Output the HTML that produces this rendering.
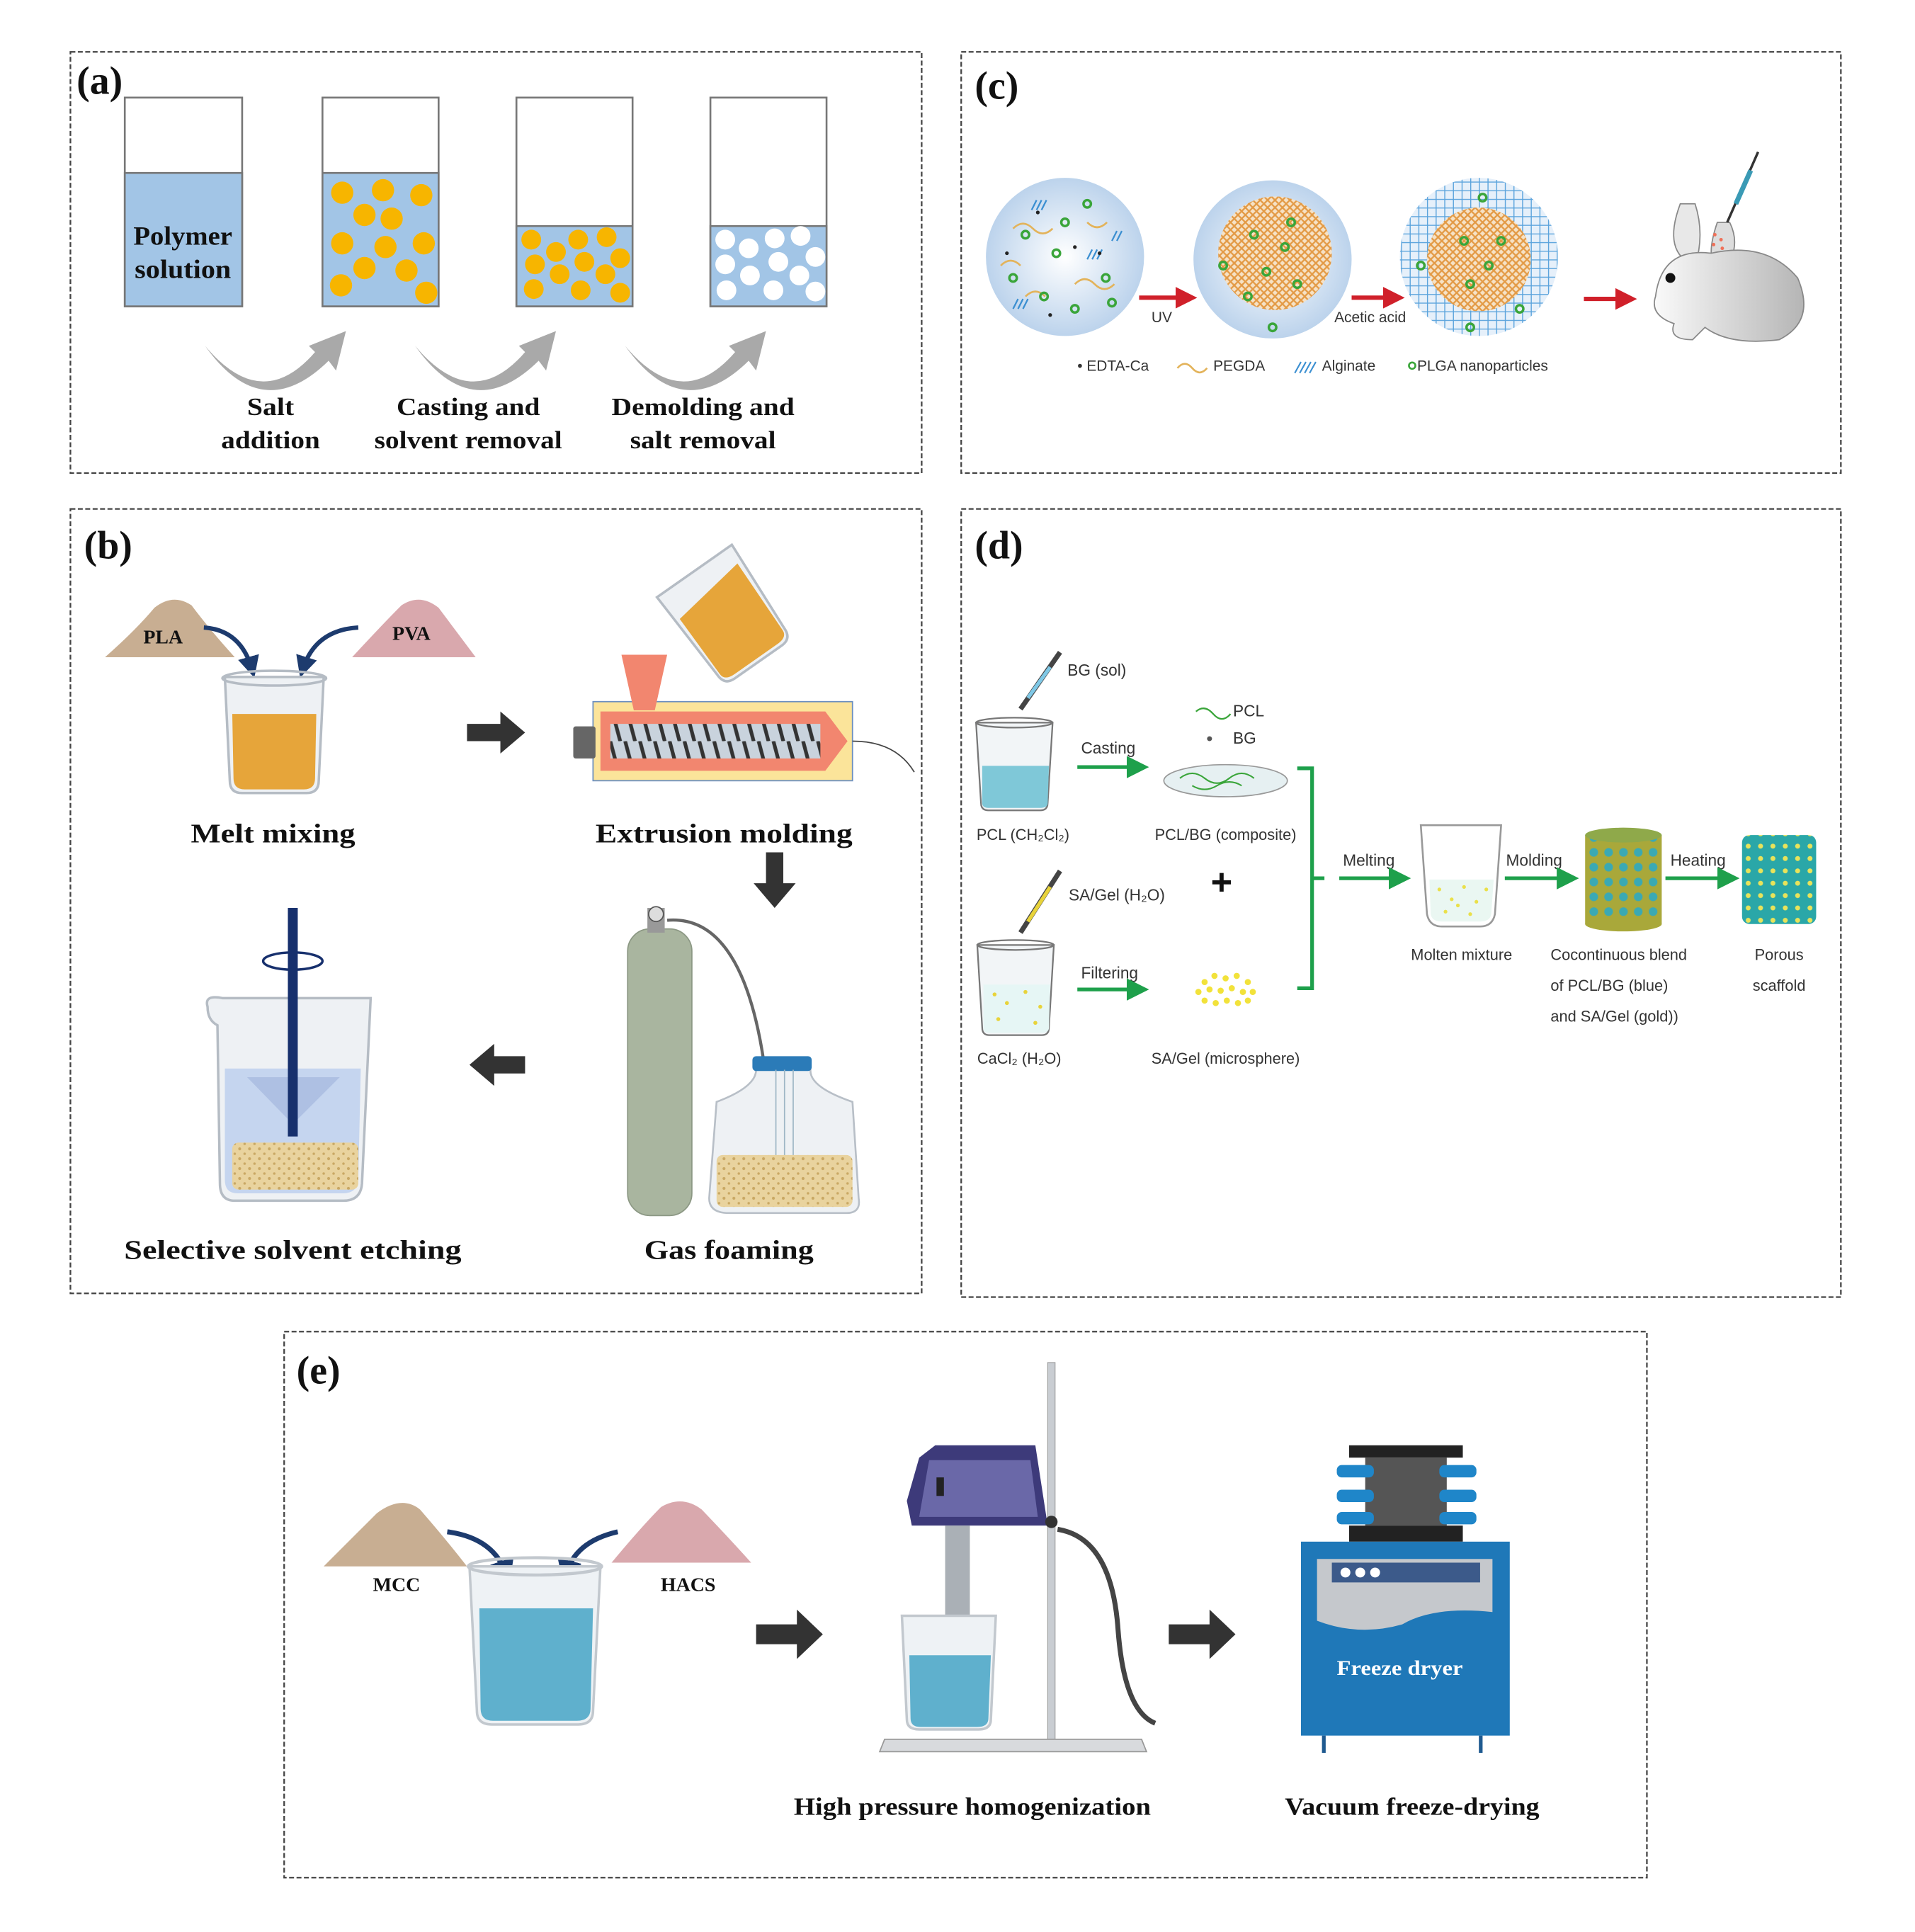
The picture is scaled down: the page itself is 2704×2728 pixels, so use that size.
<!DOCTYPE html>
<html><head><meta charset="utf-8"><style>
html,body{margin:0;padding:0;background:#fff}
svg{display:block}
.lab{font-family:"Liberation Serif",serif;font-weight:bold;fill:#111}
.sans{font-family:"Liberation Sans",sans-serif;fill:#333}
</style></head><body>
<svg width="2704" height="2728" viewBox="0 0 1550 1564" preserveAspectRatio="none" xmlns="http://www.w3.org/2000/svg">
<defs>
<pattern id="grid" width="7" height="7" patternUnits="userSpaceOnUse"><rect width="7" height="7" fill="#e6f0fa"/><path d="M0 0H7M0 0V7" stroke="#5aa3dc" stroke-width="1.6"/></pattern>
<pattern id="mesh" width="6" height="6" patternUnits="userSpaceOnUse"><rect width="6" height="6" fill="#f6e2c6"/><path d="M0 0L6 6M6 0L0 6" stroke="#e39a45" stroke-width="1.3"/></pattern>
<pattern id="screw" width="12" height="30" patternUnits="userSpaceOnUse"><rect width="12" height="30" fill="#c9d3dd"/><path d="M2 0L10 30" stroke="#333" stroke-width="3"/></pattern>
<pattern id="foam" width="8" height="8" patternUnits="userSpaceOnUse"><rect width="8" height="8" fill="#e9d39e"/><circle cx="2" cy="2" r="1.2" fill="#c9a864"/><circle cx="6" cy="6" r="1" fill="#c9a864"/></pattern>
<pattern id="scaf" width="10" height="10" patternUnits="userSpaceOnUse"><rect width="10" height="10" fill="#2aa7a8"/><circle cx="5" cy="5" r="2" fill="#e8e35a"/></pattern>
<pattern id="cyl" width="12" height="12" patternUnits="userSpaceOnUse"><rect width="12" height="12" fill="#a9a83a"/><circle cx="6" cy="6" r="3.5" fill="#3ba9b3"/></pattern>
<radialGradient id="cg"><stop offset="0" stop-color="#fff"/><stop offset="1" stop-color="#bcd3ec"/></radialGradient>
<linearGradient id="rab" x1="0" x2="1"><stop offset="0" stop-color="#fafafa"/><stop offset="1" stop-color="#b5b5b5"/></linearGradient>
<marker id="gA" markerWidth="6" markerHeight="6" refX="4" refY="3" orient="auto" markerUnits="strokeWidth"><path d="M0 0L6 3L0 6Z" fill="#1ea04b"/></marker>
<marker id="rA" markerWidth="5" markerHeight="5" refX="3" refY="2.5" orient="auto" markerUnits="strokeWidth"><path d="M0 0L5 2.5L0 5Z" fill="#d0202a"/></marker>
<marker id="bA" markerWidth="5" markerHeight="5" refX="3" refY="2.5" orient="auto" markerUnits="strokeWidth"><path d="M0 0L5 2.5L0 5Z" fill="#1d3b6e"/></marker>
</defs>

<g fill="none" stroke="#444" stroke-width="1.3" stroke-dasharray="4 2">
<rect x="57" y="42" width="689" height="341"/>
<rect x="778" y="42" width="712" height="341"/>
<rect x="57" y="412" width="689" height="635"/>
<rect x="778" y="412" width="712" height="638"/>
<rect x="230" y="1078" width="1103" height="442"/>
</g>

<!-- ===== (a) ===== -->
<text class="lab" x="62" y="76" font-size="32">(a)</text>
<g stroke="#777" stroke-width="1.5">
<rect x="101" y="79" width="95" height="169" fill="#fff"/>
<rect x="101" y="140" width="95" height="108" fill="#a2c5e6"/>
<rect x="261" y="79" width="94" height="169" fill="#fff"/>
<rect x="261" y="140" width="94" height="108" fill="#a2c5e6"/>
<rect x="418" y="79" width="94" height="169" fill="#fff"/>
<rect x="418" y="183" width="94" height="65" fill="#a2c5e6"/>
<rect x="575" y="79" width="94" height="169" fill="#fff"/>
<rect x="575" y="183" width="94" height="65" fill="#a2c5e6"/>
</g>
<text class="lab" x="148" y="198" font-size="21" text-anchor="middle" textLength="80" lengthAdjust="spacingAndGlyphs">Polymer</text>
<text class="lab" x="148" y="225" font-size="21" text-anchor="middle" textLength="78" lengthAdjust="spacingAndGlyphs">solution</text>
<g fill="#f7b500">
<circle cx="277" cy="156" r="9"/><circle cx="310" cy="154" r="9"/><circle cx="341" cy="158" r="9"/><circle cx="295" cy="174" r="9"/><circle cx="317" cy="177" r="9"/><circle cx="277" cy="197" r="9"/><circle cx="312" cy="200" r="9"/><circle cx="343" cy="197" r="9"/><circle cx="295" cy="217" r="9"/><circle cx="329" cy="219" r="9"/><circle cx="276" cy="231" r="9"/><circle cx="345" cy="237" r="9"/>
<circle cx="430" cy="194" r="8"/><circle cx="450" cy="204" r="8"/><circle cx="468" cy="194" r="8"/><circle cx="491" cy="192" r="8"/><circle cx="433" cy="214" r="8"/><circle cx="453" cy="222" r="8"/><circle cx="473" cy="212" r="8"/><circle cx="490" cy="222" r="8"/><circle cx="502" cy="209" r="8"/><circle cx="432" cy="234" r="8"/><circle cx="470" cy="235" r="8"/><circle cx="502" cy="237" r="8"/>
</g>
<g fill="#fff">
<circle cx="587" cy="194" r="8"/><circle cx="606" cy="201" r="8"/><circle cx="627" cy="193" r="8"/><circle cx="648" cy="191" r="8"/><circle cx="587" cy="214" r="8"/><circle cx="607" cy="223" r="8"/><circle cx="630" cy="212" r="8"/><circle cx="647" cy="223" r="8"/><circle cx="660" cy="208" r="8"/><circle cx="588" cy="235" r="8"/><circle cx="626" cy="235" r="8"/><circle cx="660" cy="236" r="8"/>
</g>
<g fill="#a9a9a9">
<path d="M166 280 Q212 335 255 285 L250 280 L280 268 L272 300 L266 292 Q212 345 166 280Z"/>
<path d="M336 280 Q382 335 425 285 L420 280 L450 268 L442 300 L436 292 Q382 345 336 280Z"/>
<path d="M506 280 Q552 335 595 285 L590 280 L620 268 L612 300 L606 292 Q552 345 506 280Z"/>
</g>
<g class="lab" font-size="20" text-anchor="middle">
<text x="219" y="336" textLength="38" lengthAdjust="spacingAndGlyphs">Salt</text><text x="219" y="363" textLength="80" lengthAdjust="spacingAndGlyphs">addition</text>
<text x="379" y="336" textLength="116" lengthAdjust="spacingAndGlyphs">Casting and</text><text x="379" y="363" textLength="152" lengthAdjust="spacingAndGlyphs">solvent removal</text>
<text x="569" y="336" textLength="148" lengthAdjust="spacingAndGlyphs">Demolding and</text><text x="569" y="363" textLength="118" lengthAdjust="spacingAndGlyphs">salt removal</text>
</g>

<!-- ===== (c) ===== -->
<text class="lab" x="789" y="80" font-size="32">(c)</text>
<circle cx="862" cy="208" r="64" fill="url(#cg)"/>
<g fill="none" stroke="#e3b35a" stroke-width="1.5">
<path d="M820 185q8 -8 16 0t16 0"/><path d="M870 230q8 -8 16 0t16 0"/><path d="M830 240q8 -8 16 0"/><path d="M880 180q8 8 16 0"/><path d="M810 215q8 -8 16 0"/>
</g>
<g stroke="#3b8fd1" stroke-width="1.3">
<path d="M835 170l4 -8M839 170l4 -8M843 170l4 -8"/><path d="M880 210l4 -8M884 210l4 -8M888 210l4 -8"/><path d="M820 250l4 -8M824 250l4 -8M828 250l4 -8"/><path d="M900 195l4 -8M904 195l4 -8"/>
</g>
<g fill="none" stroke="#3aa53a" stroke-width="2">
<circle cx="830" cy="190" r="3"/><circle cx="855" cy="205" r="3"/><circle cx="880" cy="165" r="3"/><circle cx="845" cy="240" r="3"/><circle cx="895" cy="225" r="3"/><circle cx="820" cy="225" r="3"/><circle cx="870" cy="250" r="3"/><circle cx="900" cy="245" r="3"/><circle cx="862" cy="180" r="3"/>
</g>
<g fill="#222"><circle cx="840" cy="172" r="1.5"/><circle cx="870" cy="200" r="1.5"/><circle cx="815" cy="205" r="1.5"/><circle cx="890" cy="205" r="1.5"/><circle cx="850" cy="255" r="1.5"/></g>
<circle cx="1030" cy="210" r="64" fill="url(#cg)"/>
<circle cx="1032" cy="205" r="46" fill="url(#mesh)"/>
<g fill="none" stroke="#3aa53a" stroke-width="2">
<circle cx="1015" cy="190" r="3"/><circle cx="1040" cy="200" r="3"/><circle cx="1025" cy="220" r="3"/><circle cx="1050" cy="230" r="3"/><circle cx="1010" cy="240" r="3"/><circle cx="990" cy="215" r="3"/><circle cx="1045" cy="180" r="3"/><circle cx="1030" cy="265" r="3"/>
</g>
<circle cx="1197" cy="208" r="64" fill="url(#grid)"/>
<circle cx="1197" cy="210" r="42" fill="url(#mesh)"/>
<g fill="none" stroke="#3aa53a" stroke-width="2">
<circle cx="1185" cy="195" r="3"/><circle cx="1205" cy="215" r="3"/><circle cx="1190" cy="230" r="3"/><circle cx="1215" cy="195" r="3"/><circle cx="1150" cy="215" r="3"/><circle cx="1200" cy="160" r="3"/><circle cx="1230" cy="250" r="3"/><circle cx="1190" cy="265" r="3"/>
</g>
<g stroke="#d0202a" stroke-width="3.5" marker-end="url(#rA)">
<line x1="922" y1="241" x2="962" y2="241"/><line x1="1094" y1="241" x2="1130" y2="241"/><line x1="1282" y1="242" x2="1318" y2="242"/>
</g>
<text class="sans" x="932" y="261" font-size="12">UV</text>
<text class="sans" x="1080" y="261" font-size="12">Acetic acid</text>
<g stroke="#888" stroke-width="1">
<path d="M1360 165 Q1345 205 1372 215 Q1380 190 1372 165Z" fill="#e8e8e8"/>
<path d="M1390 180 Q1378 215 1395 220 Q1410 200 1400 180Z" fill="#ddd"/>
<path d="M1340 240 Q1345 200 1385 205 Q1430 195 1455 225 Q1470 260 1440 275 Q1400 280 1380 265 L1370 275 Q1350 275 1355 262 Q1335 255 1340 240Z" fill="url(#rab)"/>
</g>
<circle cx="1352" cy="225" r="4" fill="#111"/>
<g fill="#f07058"><circle cx="1388" cy="190" r="1.4"/><circle cx="1393" cy="194" r="1.4"/><circle cx="1387" cy="198" r="1.4"/><circle cx="1394" cy="201" r="1.4"/></g>
<line x1="1398" y1="180" x2="1423" y2="123" stroke="#333" stroke-width="2"/>
<line x1="1405" y1="165" x2="1417" y2="138" stroke="#3a9ab5" stroke-width="4"/>
<g class="sans" font-size="12">
<text x="872" y="300">• EDTA-Ca</text>
<path d="M953 298q6 -7 12 0t12 0" fill="none" stroke="#e3b35a" stroke-width="1.5"/>
<text x="982" y="300">PEGDA</text>
<path d="M1048 302l5 -9M1052 302l5 -9M1056 302l5 -9M1060 302l5 -9" stroke="#3b8fd1" stroke-width="1.2"/>
<text x="1070" y="300">Alginate</text>
<circle cx="1143" cy="296" r="2.6" fill="none" stroke="#3aa53a" stroke-width="1.5"/>
<text x="1147" y="300">PLGA nanoparticles</text>
</g>

<!-- ===== (b) ===== -->
<text class="lab" x="68" y="452" font-size="32">(b)</text>
<path d="M85 532 Q110 510 125 492 Q140 480 155 490 Q170 510 190 532Z" fill="#c8ae92"/>
<path d="M285 532 Q310 505 325 490 Q340 480 355 492 Q370 512 385 532Z" fill="#d9a8ad"/>
<text class="lab" x="132" y="521" font-size="16" text-anchor="middle">PLA</text>
<text class="lab" x="333" y="518" font-size="16" text-anchor="middle">PVA</text>
<g fill="none" stroke="#1d3b6e" stroke-width="3.5" marker-end="url(#bA)">
<path d="M165 508 Q195 510 204 542"/><path d="M290 508 Q255 510 245 542"/>
</g>
<path d="M182 548 L262 548 L258 632 Q258 642 248 642 L196 642 Q186 642 186 632Z" fill="#eef1f4" stroke="#b5bcc4" stroke-width="2"/>
<path d="M188 578 L256 578 L255 630 Q255 639 246 639 L198 639 Q189 639 189 630Z" fill="#e6a53a"/>
<ellipse cx="222" cy="549" rx="42" ry="6" fill="none" stroke="#b5bcc4" stroke-width="2"/>
<text class="lab" x="221" y="682" font-size="22" text-anchor="middle" textLength="133" lengthAdjust="spacingAndGlyphs">Melt mixing</text>
<path d="M378 586 H405 V576 L425 593 L405 610 V600 H378Z" fill="#333"/>
<g transform="rotate(-35 585 495)">
<path d="M548 455 L622 455 L618 535 Q618 545 608 545 L562 545 Q552 545 552 535Z" fill="#eef1f4" stroke="#b5bcc4" stroke-width="2"/>
<path d="M553 480 L617 470 L616 535 Q616 542 606 542 L564 542 Q554 542 554 535Z" fill="#e6a53a"/>
</g>
<rect x="480" y="568" width="210" height="64" fill="#fbe49a" stroke="#6b8fc0" stroke-width="1"/>
<path d="M503 530 H540 L530 575 H513Z" fill="#f2866f"/>
<path d="M486 576 H668 L686 600 L668 624 H486Z" fill="#f2866f"/>
<rect x="494" y="586" width="170" height="28" fill="url(#screw)"/>
<rect x="464" y="588" width="18" height="26" fill="#666" rx="2"/>
<path d="M690 600 Q725 600 740 625" fill="none" stroke="#444" stroke-width="1"/>
<text class="lab" x="586" y="682" font-size="22" text-anchor="middle" textLength="208" lengthAdjust="spacingAndGlyphs">Extrusion molding</text>
<path d="M620 690 H634 V715 H644 L627 735 L610 715 H620Z" fill="#333"/>
<rect x="508" y="752" width="52" height="232" rx="18" fill="#a9b59f" stroke="#8c9884"/>
<rect x="524" y="735" width="14" height="20" fill="#999"/>
<circle cx="531" cy="740" r="6" fill="#ddd" stroke="#555"/>
<path d="M540 745 Q600 740 618 858" fill="none" stroke="#666" stroke-width="2.5"/>
<path d="M612 866 Q612 880 580 892 L574 970 Q574 982 590 982 L685 982 Q697 982 695 970 L690 892 Q655 880 656 866Z" fill="#eef1f4" stroke="#b8bfc7" stroke-width="1.5"/>
<rect x="609" y="855" width="48" height="12" rx="3" fill="#2b7bb8"/>
<path d="M628 866 V940 M635 866 V940 M642 866 V940" stroke="#9fb7c6" stroke-width="1"/>
<rect x="580" y="935" width="110" height="42" rx="5" fill="url(#foam)"/>
<text class="lab" x="590" y="1019" font-size="22" text-anchor="middle" textLength="137" lengthAdjust="spacingAndGlyphs">Gas foaming</text>
<path d="M425 855 H400 V845 L380 862 L400 879 V869 H425Z" fill="#333"/>
<path d="M168 815 Q165 805 180 808 L300 808 L293 958 Q292 972 278 972 L190 972 Q178 972 178 958 L176 830 Q168 826 168 815Z" fill="#eef1f4" stroke="#b5bcc4" stroke-width="2"/>
<path d="M182 865 L292 865 L290 955 Q289 966 278 966 L192 966 Q182 966 182 955Z" fill="#c5d5ef"/>
<path d="M200 872 L275 872 L237 910Z" fill="#aec0e3"/>
<rect x="188" y="925" width="102" height="38" rx="5" fill="url(#foam)"/>
<rect x="233" y="735" width="8" height="185" fill="#17306d"/>
<ellipse cx="237" cy="778" rx="24" ry="7" fill="none" stroke="#17306d" stroke-width="2"/>
<text class="lab" x="237" y="1019" font-size="22" text-anchor="middle" textLength="273" lengthAdjust="spacingAndGlyphs">Selective solvent etching</text>

<!-- ===== (d) ===== -->
<text class="lab" x="789" y="452" font-size="32">(d)</text>
<g class="sans" font-size="13">
<path d="M790 585 L852 585 L848 650 Q848 656 842 656 L800 656 Q794 656 794 650Z" fill="#f2f5f7" stroke="#777" stroke-width="1.3"/>
<path d="M795 620 L849 620 L848 650 Q848 654 842 654 L800 654 Q795 654 795 650Z" fill="#7fc8d8"/>
<ellipse cx="821" cy="585" rx="31" ry="4" fill="none" stroke="#777" stroke-width="1.3"/>
<line x1="826" y1="574" x2="858" y2="528" stroke="#444" stroke-width="4"/>
<line x1="832" y1="565" x2="850" y2="540" stroke="#7fc8e6" stroke-width="3"/>
<text x="864" y="547">BG (sol)</text>
<text x="875" y="610">Casting</text>
<line x1="872" y1="621" x2="924" y2="621" stroke="#1ea04b" stroke-width="3" marker-end="url(#gA)"/>
<path d="M968 576 q7 -6 14 2 t14 0" fill="none" stroke="#3aa53a" stroke-width="1.3"/>
<text x="998" y="580">PCL</text>
<circle cx="979" cy="598" r="2" fill="#555"/>
<text x="998" y="602">BG</text>
<ellipse cx="992" cy="632" rx="50" ry="13" fill="#e6f0f2" stroke="#999"/>
<path d="M955 630 q10 -8 20 0 t20 0 t20 0 M965 636 q10 6 20 0 t20 0" fill="none" stroke="#3aa53a" stroke-width="1.2"/>
<text x="828" y="680" text-anchor="middle" font-size="12.5">PCL (CH₂Cl₂)</text>
<text x="992" y="680" text-anchor="middle" font-size="12.5">PCL/BG (composite)</text>
<text x="980" y="724" font-size="30" font-weight="bold" fill="#111">+</text>
<line x1="826" y1="755" x2="858" y2="705" stroke="#444" stroke-width="4"/>
<line x1="832" y1="746" x2="850" y2="718" stroke="#e8d33a" stroke-width="3"/>
<text x="865" y="729">SA/Gel (H₂O)</text>
<path d="M791 765 L853 765 L849 832 Q849 838 843 838 L801 838 Q795 838 795 832Z" fill="#f2f5f7" stroke="#777" stroke-width="1.3"/>
<path d="M796 797 L850 797 L849 832 Q849 836 843 836 L801 836 Q796 836 796 832Z" fill="#e6f6f5"/>
<ellipse cx="822" cy="765" rx="31" ry="4" fill="none" stroke="#777" stroke-width="1.3"/>
<g fill="#e8d33a"><circle cx="805" cy="805" r="1.6"/><circle cx="815" cy="812" r="1.6"/><circle cx="830" cy="803" r="1.6"/><circle cx="842" cy="815" r="1.6"/><circle cx="808" cy="825" r="1.6"/><circle cx="838" cy="828" r="1.6"/></g>
<text x="875" y="792">Filtering</text>
<line x1="872" y1="801" x2="924" y2="801" stroke="#1ea04b" stroke-width="3" marker-end="url(#gA)"/>
<g fill="#f2e23a"><circle cx="975" cy="795" r="2.5"/><circle cx="983" cy="790" r="2.5"/><circle cx="992" cy="792" r="2.5"/><circle cx="1001" cy="790" r="2.5"/><circle cx="1010" cy="795" r="2.5"/><circle cx="970" cy="803" r="2.5"/><circle cx="979" cy="801" r="2.5"/><circle cx="988" cy="802" r="2.5"/><circle cx="997" cy="800" r="2.5"/><circle cx="1006" cy="803" r="2.5"/><circle cx="1014" cy="803" r="2.5"/><circle cx="975" cy="810" r="2.5"/><circle cx="984" cy="812" r="2.5"/><circle cx="993" cy="810" r="2.5"/><circle cx="1002" cy="812" r="2.5"/><circle cx="1010" cy="810" r="2.5"/></g>
<text x="825" y="861" text-anchor="middle" font-size="12.5">CaCl₂ (H₂O)</text>
<text x="992" y="861" text-anchor="middle" font-size="12.5">SA/Gel (microsphere)</text>
<path d="M1050 622 H1062 V800 H1050 M1062 711 H1072" fill="none" stroke="#1ea04b" stroke-width="3"/>
<text x="1087" y="701">Melting</text>
<line x1="1084" y1="711" x2="1136" y2="711" stroke="#1ea04b" stroke-width="3" marker-end="url(#gA)"/>
<path d="M1150 668 L1215 668 L1210 740 Q1208 750 1198 750 L1167 750 Q1157 750 1155 740Z" fill="#fff" stroke="#999" stroke-width="1.5"/>
<path d="M1157 712 L1209 712 L1207 740 Q1206 746 1198 746 L1167 746 Q1159 746 1158 740Z" fill="#eaf7f2"/>
<g fill="#eae04a"><circle cx="1165" cy="720" r="1.5"/><circle cx="1175" cy="728" r="1.5"/><circle cx="1185" cy="718" r="1.5"/><circle cx="1195" cy="730" r="1.5"/><circle cx="1203" cy="720" r="1.5"/><circle cx="1170" cy="738" r="1.5"/><circle cx="1190" cy="740" r="1.5"/><circle cx="1180" cy="733" r="1.5"/></g>
<text x="1219" y="701">Molding</text>
<line x1="1218" y1="711" x2="1272" y2="711" stroke="#1ea04b" stroke-width="3" marker-end="url(#gA)"/>
<rect x="1283" y="676" width="62" height="72" fill="url(#cyl)"/>
<ellipse cx="1314" cy="676" rx="31" ry="6" fill="#8fa94a"/>
<ellipse cx="1314" cy="748" rx="31" ry="6" fill="#a9a83a"/>
<text x="1352" y="701">Heating</text>
<line x1="1348" y1="711" x2="1402" y2="711" stroke="#1ea04b" stroke-width="3" marker-end="url(#gA)"/>
<rect x="1410" y="676" width="60" height="72" rx="6" fill="url(#scaf)"/>
<text x="1183" y="777" text-anchor="middle" font-size="12.5">Molten mixture</text>
<text x="1255" y="777" font-size="12.5">Cocontinuous blend</text>
<text x="1255" y="802" font-size="12.5">of PCL/BG (blue)</text>
<text x="1255" y="827" font-size="12.5">and SA/Gel (gold))</text>
<text x="1440" y="777" text-anchor="middle" font-size="12.5">Porous</text>
<text x="1440" y="802" text-anchor="middle" font-size="12.5">scaffold</text>
</g>

<!-- ===== (e) ===== -->
<text class="lab" x="240" y="1120" font-size="32">(e)</text>
<path d="M262 1268 Q290 1240 305 1225 Q325 1210 340 1222 Q360 1245 378 1268Z" fill="#c8ae92"/>
<path d="M495 1265 Q520 1235 535 1220 Q552 1210 568 1222 Q590 1245 608 1265Z" fill="#d9a8ad"/>
<text class="lab" x="321" y="1288" font-size="16" text-anchor="middle">MCC</text>
<text class="lab" x="557" y="1288" font-size="16" text-anchor="middle">HACS</text>
<g fill="none" stroke="#1d3b6e" stroke-width="4" marker-end="url(#bA)">
<path d="M362 1240 Q400 1245 410 1275"/><path d="M500 1240 Q465 1248 458 1275"/>
</g>
<path d="M380 1268 L486 1268 L480 1385 Q480 1396 468 1396 L398 1396 Q386 1396 386 1385Z" fill="#eef2f5" stroke="#c2c8ce" stroke-width="2"/>
<path d="M388 1302 L480 1302 L478 1383 Q478 1393 467 1393 L399 1393 Q389 1393 389 1383Z" fill="#5fb0cd"/>
<ellipse cx="433" cy="1268" rx="54" ry="7" fill="none" stroke="#c2c8ce" stroke-width="2.5"/>
<path d="M612 1315 H645 V1303 L666 1323 L645 1343 V1331 H612Z" fill="#333"/>
<path d="M946 1315 H979 V1303 L1000 1323 L979 1343 V1331 H946Z" fill="#333"/>
<rect x="848" y="1103" width="6" height="308" fill="#c9cdd2" stroke="#999" stroke-width="0.6"/>
<path d="M716 1408 L924 1408 L928 1418 L712 1418Z" fill="#d8dadd" stroke="#999"/>
<path d="M757 1170 L838 1170 L848 1235 L738 1235 L734 1215 L744 1180Z" fill="#3d3a7a"/>
<path d="M752 1182 L834 1182 L840 1228 L744 1228Z" fill="#6a68a8"/>
<rect x="758" y="1196" width="6" height="15" fill="#222"/>
<circle cx="851" cy="1232" r="5" fill="#333"/>
<path d="M856 1238 Q900 1245 905 1320 Q910 1385 935 1395" fill="none" stroke="#444" stroke-width="4"/>
<rect x="765" y="1235" width="20" height="80" fill="#aab0b6"/>
<path d="M730 1308 L806 1308 L802 1392 Q802 1400 792 1400 L744 1400 Q734 1400 734 1392Z" fill="#eef2f5" stroke="#c2c8ce" stroke-width="2"/>
<path d="M736 1340 L802 1340 L800 1391 Q800 1398 791 1398 L745 1398 Q737 1398 737 1391Z" fill="#5fb0cd"/>
<text class="lab" x="787" y="1469" font-size="20" text-anchor="middle" textLength="289" lengthAdjust="spacingAndGlyphs">High pressure homogenization</text>
<rect x="1092" y="1170" width="92" height="10" fill="#222"/>
<rect x="1105" y="1180" width="66" height="55" fill="#555"/>
<rect x="1092" y="1235" width="92" height="13" fill="#222"/>
<g fill="#1f86c9"><rect x="1082" y="1186" width="30" height="10" rx="4"/><rect x="1082" y="1206" width="30" height="10" rx="4"/><rect x="1082" y="1224" width="30" height="10" rx="4"/><rect x="1165" y="1186" width="30" height="10" rx="4"/><rect x="1165" y="1206" width="30" height="10" rx="4"/><rect x="1165" y="1224" width="30" height="10" rx="4"/></g>
<rect x="1053" y="1248" width="169" height="157" fill="#1f78b8"/>
<path d="M1066 1262 H1208 V1305 Q1160 1300 1135 1315 Q1100 1325 1066 1312Z" fill="#c5c8cc"/>
<rect x="1078" y="1265" width="120" height="16" fill="#3c5a8a"/>
<g fill="#fff"><circle cx="1089" cy="1273" r="4"/><circle cx="1101" cy="1273" r="4"/><circle cx="1113" cy="1273" r="4"/></g>
<text class="lab" x="1133" y="1356" font-size="17" text-anchor="middle" style="fill:#fff" textLength="102" lengthAdjust="spacingAndGlyphs">Freeze dryer</text>
<rect x="1070" y="1405" width="3" height="14" fill="#1f5a90"/><rect x="1197" y="1405" width="3" height="14" fill="#1f5a90"/>
<text class="lab" x="1143" y="1469" font-size="20" text-anchor="middle" textLength="206" lengthAdjust="spacingAndGlyphs">Vacuum freeze-drying</text>
</svg>
</body></html>
